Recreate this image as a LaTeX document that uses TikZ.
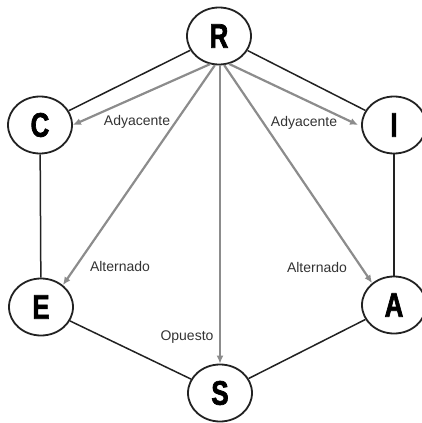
\documentclass[tikz,border=0pt]{standalone}
\usepackage{fontspec}
\setmainfont{Liberation Sans}
\newfontfamily\nodefont{Liberation Sans}[FakeStretch=0.76,BoldFeatures={FakeBold=2}]
\usetikzlibrary{shapes.geometric,arrows.meta}
\definecolor{arrowgray}{HTML}{8C8C8C}
\definecolor{edgeblack}{HTML}{222222}
\definecolor{labelgray}{HTML}{333333}
\tikzset{
  letter/.style={ellipse,draw=edgeblack,line width=1.8pt,fill=white,minimum width=64pt,minimum height=57pt,inner sep=0pt,text=black,font=\nodefont\bfseries\fontsize{34}{34}\selectfont},
  hexedge/.style={draw=edgeblack,line width=1.5pt},
  relarrow/.style={draw=arrowgray,line width=2.2pt,-{Latex[length=8pt,width=7pt]}},
  rellabel/.style={text=labelgray,font=\fontsize{14}{16}\selectfont,inner sep=1pt}
}
\begin{document}
\begin{tikzpicture}[x=1pt,y=-1pt]
\useasboundingbox (0,0) rectangle (422,423);
\node[letter] (R) at (219,36) {R};
\node[letter] (C) at (40,125) {C};
\node[letter] (I) at (394,125) {I};
\node[letter] (E) at (41,307) {E};
\node[letter] (A) at (394,305) {A};
\node[letter] (S) at (220,393) {S};
% hexagon edges
\draw[hexedge] (R) -- (C);
\draw[hexedge] (C) -- (E);
\draw[hexedge] (E) -- (S);
\draw[hexedge] (S) -- (A);
\draw[hexedge] (A) -- (I);
\draw[hexedge] (I) -- (R);
% relation arrows
\draw[relarrow] (R.-108) -- (C.east);
\draw[relarrow] (R.-98) -- (E.45);
\draw[relarrow] (S.north |- R.south) -- (S.north);
\draw[relarrow] (R.-80) -- (A.135);
\draw[relarrow] (R.-70) -- ([xshift=-3pt]I.west);
% labels
\node[rellabel] (l1) at (137,122) {Adyacente};
\node[rellabel] (l2) at (304,123) {Adyacente};
\node[rellabel] (l3) at (120,266) {Alternado};
\node[rellabel] (l4) at (317,267) {Alternado};
\node[rellabel] (l5) at (187,337) {Opuesto};
\end{tikzpicture}
\end{document}
